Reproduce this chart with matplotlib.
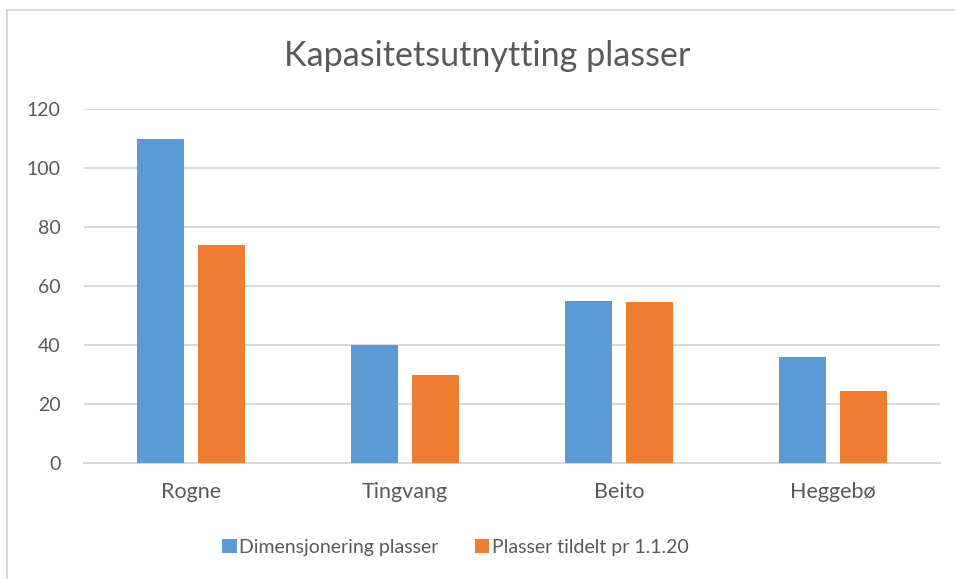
import matplotlib
matplotlib.use("Agg")
import matplotlib.pyplot as plt
from matplotlib.patches import Rectangle
import numpy as np

## data
categories = ['Rogne', 'Tingvang', 'Beito', 'Heggebø']
dimensjonering = [110, 40, 55, 36]
tildelt = [74, 30, 54.6, 24.5]
series_names = ['Dimensjonering plasser', 'Plasser tildelt pr 1.1.20']

blue = '#5b9bd5'
orange = '#ed7d31'
grey_text = '#595959'
grid_grey = '#d9d9d9'

plt.rcParams['font.family'] = ['Lato', 'DejaVu Sans']

fig = plt.figure(figsize=(9.55, 5.79), dpi=100)
ax = fig.add_axes([0.088, 0.2003, 0.896, 0.6114])

## outer chart border (cropped on right and bottom like the screenshot)
fig.patches.append(Rectangle((7 / 955, -0.1), 1.1, 1 - 10 / 579 + 0.1,
                             transform=fig.transFigure, fill=False,
                             edgecolor=grid_grey, linewidth=1.5))

x = np.arange(len(categories))
w = 0.22
ax.bar(x - 0.143, dimensjonering, w, color=blue, label=series_names[0], zorder=3)
ax.bar(x + 0.143, tildelt, w, color=orange, label=series_names[1], zorder=3)

ax.set_xlim(-0.5, len(categories) - 0.5)
ax.set_ylim(0, 120)
ax.set_yticks(range(0, 121, 20))
ax.set_xticks(x)
ax.set_xticklabels(categories)
ax.grid(axis='y', color=grid_grey, linewidth=1.5, zorder=0)
for s in ['top', 'right', 'left']:
    ax.spines[s].set_visible(False)
ax.spines['bottom'].set_color(grid_grey)
ax.spines['bottom'].set_linewidth(1.5)
ax.tick_params(axis='y', length=0, labelsize=14, colors=grey_text, pad=17)
ax.tick_params(axis='x', length=0, labelsize=15.5, colors=grey_text, pad=14)

fig.text(487 / 955, 1 - 56 / 579, 'Kapasitetsutnytting plasser', ha='center', va='center',
         fontsize=24.6, color=grey_text)

fig.legend(loc='center', bbox_to_anchor=(0.477, 1 - 547 / 579), ncol=2, frameon=False,
           fontsize=14, labelcolor=grey_text, handlelength=0.75, handleheight=0.75,
           handletextpad=0.15, columnspacing=1.85)

plt.savefig('out.png', dpi=100)
plt.close()
